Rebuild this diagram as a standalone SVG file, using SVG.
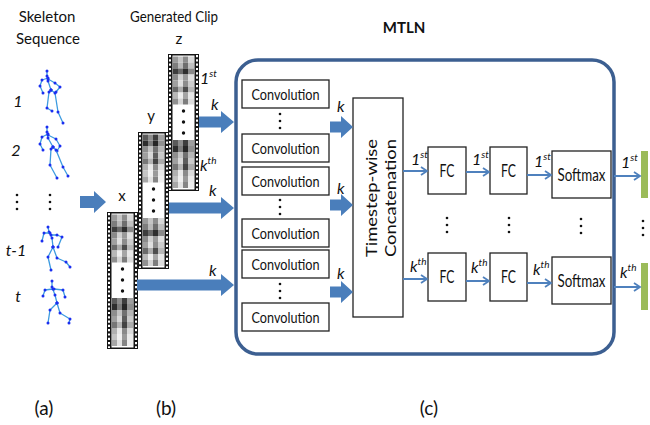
<svg xmlns="http://www.w3.org/2000/svg" width="650" height="425" viewBox="0 0 650 425">
<style>
  text { font-family: Lato, "Liberation Sans", "DejaVu Sans", sans-serif; fill: #111; }
  .hd { font-size: 15px; text-anchor: middle; }
  .lab { font-size: 17px; text-anchor: middle; }
  .conv { font-size: 15.5px; text-anchor: middle; }
  .it { font-style: italic; font-size: 16px; }
  .sup { font-size: 10px; }
  .cap { font-size: 19px; text-anchor: middle; }
  .box { fill: #fff; stroke: #222; stroke-width: 1.3; }
  .fat { fill: #4a7ebb; }
  .thin { stroke: #4f81bd; stroke-width: 2; fill: none; marker-end: url(#ah); }
  .bone { stroke: #3d9be0; stroke-width: 1.3; fill: none; stroke-linejoin: round;
          marker-start: url(#jt); marker-mid: url(#jt); marker-end: url(#jt); }
  .dot { fill: #111; }
  .perf { stroke: #fff; stroke-width: 2; stroke-dasharray: 2.2 2.1; }
  .out { fill: #9bbb59; }
</style>
<defs>
  <marker id="ah" markerWidth="10" markerHeight="10" refX="8" refY="5" orient="auto" markerUnits="userSpaceOnUse">
    <path d="M2,1 L8,5 L2,9" fill="none" stroke="#4f81bd" stroke-width="1.8"/>
  </marker>
  <marker id="jt" markerWidth="4" markerHeight="4" refX="2" refY="2" markerUnits="userSpaceOnUse">
    <circle cx="2" cy="2" r="1.5" fill="#1b2ff0"/>
  </marker>
  <filter id="soft" x="-5%" y="-5%" width="110%" height="110%">
    <feGaussianBlur stdDeviation="0.5"/>
  </filter>
  <!-- vertical ellipsis -->
  <g id="vd">
    <circle cx="0" cy="0" r="1.3"/>
    <circle cx="0" cy="7" r="1.3"/>
    <circle cx="0" cy="14" r="1.3"/>
  </g>
  <!-- film strip frame: 31 x 137 -->
  <g id="film">
    <rect width="31" height="137" fill="#151515"/>
    <line x1="2" y1="1" x2="2" y2="136" class="perf"/>
    <line x1="29" y1="1" x2="29" y2="136" class="perf"/>
    <rect x="4.5" y="1.5" width="22" height="134" fill="#fff"/>
    <circle cx="15.5" cy="57" r="1.7" class="dot"/>
    <circle cx="15.5" cy="68" r="1.7" class="dot"/>
    <circle cx="15.5" cy="79" r="1.7" class="dot"/>
  </g>
  <!-- grey-level clip frames: 21 x 48 -->
  <g id="imgA" filter="url(#soft)">
    <rect x="0" y="0" width="5" height="6" fill="#9a9a9a"/><rect x="5" y="0" width="5" height="6" fill="#c5c5c5"/><rect x="10" y="0" width="5" height="6" fill="#8c8c8c"/><rect x="15" y="0" width="6" height="6" fill="#d8d8d8"/>
    <rect x="0" y="6" width="5" height="6" fill="#7d7d7d"/><rect x="5" y="6" width="5" height="6" fill="#b9b9b9"/><rect x="10" y="6" width="5" height="6" fill="#6e6e6e"/><rect x="15" y="6" width="6" height="6" fill="#c0c0c0"/>
    <rect x="0" y="12" width="5" height="6" fill="#3c3c3c"/><rect x="5" y="12" width="5" height="6" fill="#6a6a6a"/><rect x="10" y="12" width="5" height="6" fill="#2e2e2e"/><rect x="15" y="12" width="6" height="6" fill="#8a8a8a"/>
    <rect x="0" y="18" width="5" height="6" fill="#8a8a8a"/><rect x="5" y="18" width="5" height="6" fill="#d0d0d0"/><rect x="10" y="18" width="5" height="6" fill="#999"/><rect x="15" y="18" width="6" height="6" fill="#e0e0e0"/>
    <rect x="0" y="24" width="5" height="6" fill="#a0a0a0"/><rect x="5" y="24" width="5" height="6" fill="#dfdfdf"/><rect x="10" y="24" width="5" height="6" fill="#8d8d8d"/><rect x="15" y="24" width="6" height="6" fill="#cdcdcd"/>
    <rect x="0" y="30" width="5" height="6" fill="#6a6a6a"/><rect x="5" y="30" width="5" height="6" fill="#acacac"/><rect x="10" y="30" width="5" height="6" fill="#4e4e4e"/><rect x="15" y="30" width="6" height="6" fill="#b8b8b8"/>
    <rect x="0" y="36" width="5" height="6" fill="#b8b8b8"/><rect x="5" y="36" width="5" height="6" fill="#eeeeee"/><rect x="10" y="36" width="5" height="6" fill="#a5a5a5"/><rect x="15" y="36" width="6" height="6" fill="#e8e8e8"/>
    <rect x="0" y="42" width="5" height="6" fill="#909090"/><rect x="5" y="42" width="5" height="6" fill="#d5d5d5"/><rect x="10" y="42" width="5" height="6" fill="#7b7b7b"/><rect x="15" y="42" width="6" height="6" fill="#dcdcdc"/>
  </g>
  <g id="imgB" filter="url(#soft)">
    <rect x="0" y="0" width="5" height="6" fill="#5a5a5a"/><rect x="5" y="0" width="5" height="6" fill="#8d8d8d"/><rect x="10" y="0" width="5" height="6" fill="#3d3d3d"/><rect x="15" y="0" width="6" height="6" fill="#9f9f9f"/>
    <rect x="0" y="6" width="5" height="6" fill="#2f2f2f"/><rect x="5" y="6" width="5" height="6" fill="#7b7b7b"/><rect x="10" y="6" width="5" height="6" fill="#262626"/><rect x="15" y="6" width="6" height="6" fill="#909090"/>
    <rect x="0" y="12" width="5" height="6" fill="#8e8e8e"/><rect x="5" y="12" width="5" height="6" fill="#c3c3c3"/><rect x="10" y="12" width="5" height="6" fill="#6f6f6f"/><rect x="15" y="12" width="6" height="6" fill="#b6b6b6"/>
    <rect x="0" y="18" width="5" height="6" fill="#9f9f9f"/><rect x="5" y="18" width="5" height="6" fill="#d7d7d7"/><rect x="10" y="18" width="5" height="6" fill="#5c5c5c"/><rect x="15" y="18" width="6" height="6" fill="#c9c9c9"/>
    <rect x="0" y="24" width="5" height="6" fill="#777"/><rect x="5" y="24" width="5" height="6" fill="#b3b3b3"/><rect x="10" y="24" width="5" height="6" fill="#434343"/><rect x="15" y="24" width="6" height="6" fill="#ababab"/>
    <rect x="0" y="30" width="5" height="6" fill="#b1b1b1"/><rect x="5" y="30" width="5" height="6" fill="#e9e9e9"/><rect x="10" y="30" width="5" height="6" fill="#8a8a8a"/><rect x="15" y="30" width="6" height="6" fill="#dbdbdb"/>
    <rect x="0" y="36" width="5" height="6" fill="#c4c4c4"/><rect x="5" y="36" width="5" height="6" fill="#f0f0f0"/><rect x="10" y="36" width="5" height="6" fill="#9a9a9a"/><rect x="15" y="36" width="6" height="6" fill="#eaeaea"/>
    <rect x="0" y="42" width="5" height="6" fill="#a7a7a7"/><rect x="5" y="42" width="5" height="6" fill="#e3e3e3"/><rect x="10" y="42" width="5" height="6" fill="#858585"/><rect x="15" y="42" width="6" height="6" fill="#efefef"/>
  </g>
</defs>

<rect width="650" height="425" fill="#fff"/>

<!-- (a) skeleton sequence -->
<g id="skeleton-sequence">
  <text x="47" y="22" class="hd">Skeleton</text>
  <text x="48" y="44" class="hd">Sequence</text>
  <text x="18" y="107" class="lab it">1</text>
  <text x="16" y="156" class="lab it">2</text>
  <text x="16" y="256" class="lab it">t-1</text>
  <text x="18" y="302" class="lab it">t</text>
  <use href="#vd" x="17" y="195" class="dot"/>
  <use href="#vd" x="50" y="195" class="dot"/>
  <g id="frame-1">
    <path class="bone" d="M47,71 L47,76 L48,81 L51,90"/>
    <path class="bone" d="M48,78 L42,80 L40,86 L43,93"/>
    <path class="bone" d="M48,79 L55,83 L60,87 L56,92"/>
    <path class="bone" d="M51,90 L49,92 L47,108 L52,111"/>
    <path class="bone" d="M51,90 L55,93 L58,112 L63,123"/>
  </g>
  <g id="frame-2">
    <path class="bone" d="M47,127 L47,132 L48,138 L53,147"/>
    <path class="bone" d="M48,134 L42,137 L40,144 L43,150"/>
    <path class="bone" d="M48,135 L56,139 L60,146 L57,151"/>
    <path class="bone" d="M53,147 L51,149 L50,165 L57,178"/>
    <path class="bone" d="M53,147 L56,150 L63,167 L68,176"/>
  </g>
  <g id="frame-t-1">
    <path class="bone" d="M48,227 L49,232 L52,238 L53,247"/>
    <path class="bone" d="M50,233 L44,233 L42,241"/>
    <path class="bone" d="M51,235 L57,235 L62,237 L58,247"/>
    <path class="bone" d="M53,247 L48,257 L51,270"/>
    <path class="bone" d="M53,247 L57,258 L66,262 L70,267"/>
  </g>
  <g id="frame-t">
    <path class="bone" d="M52,281 L52,287 L55,295 L57,303"/>
    <path class="bone" d="M53,289 L45,290 L43,296"/>
    <path class="bone" d="M54,289 L63,290 L65,297"/>
    <path class="bone" d="M57,303 L50,310 L48,323"/>
    <path class="bone" d="M57,303 L60,313 L70,319 L69,323"/>
  </g>
</g>

<!-- (b) generated clips -->
<text x="174" y="22" class="hd" textLength="88" lengthAdjust="spacingAndGlyphs">Generated Clip</text>
<g id="clip-z">
  <text x="179" y="44" class="hd">z</text>
  <g transform="translate(168,54)">
    <use href="#film"/>
    <use href="#imgA" x="5" y="2.5"/>
    <use href="#imgB" x="5" y="86"/>
  </g>
  <text x="200" y="84" class="it">1<tspan class="sup" dy="-7">st</tspan></text>
  <text x="200" y="171" class="it">k<tspan class="sup" dy="-7">th</tspan></text>
</g>
<g id="clip-y">
  <text x="151" y="121" class="hd">y</text>
  <g transform="translate(138,132)">
    <use href="#film"/>
    <use href="#imgB" x="5" y="2.5"/>
    <use href="#imgA" x="5" y="86"/>
  </g>
</g>
<g id="clip-x">
  <text x="122" y="201" class="hd">x</text>
  <g transform="translate(107,212)">
    <use href="#film"/>
    <use href="#imgA" x="5" y="2.5"/>
    <use href="#imgB" x="5" y="86"/>
  </g>
</g>

<!-- (c) MTLN -->
<g id="mtln">
  <text x="404" y="33" font-size="15" font-weight="bold" text-anchor="middle">MTLN</text>
  <rect x="236" y="60" width="378" height="294" rx="22" fill="none" stroke="#3c5f91" stroke-width="3.5"/>
</g>

<g id="conv-1"><rect class="box" x="242" y="80" width="87" height="28"/><text x="285.5" y="99.5" class="conv" textLength="68" lengthAdjust="spacingAndGlyphs">Convolution</text></g>
<g id="conv-2"><rect class="box" x="242" y="134" width="87" height="28"/><text x="285.5" y="153.5" class="conv" textLength="68" lengthAdjust="spacingAndGlyphs">Convolution</text></g>
<g id="conv-3"><rect class="box" x="242" y="167" width="87" height="28"/><text x="285.5" y="186.5" class="conv" textLength="68" lengthAdjust="spacingAndGlyphs">Convolution</text></g>
<g id="conv-4"><rect class="box" x="242" y="219" width="87" height="28"/><text x="285.5" y="238.5" class="conv" textLength="68" lengthAdjust="spacingAndGlyphs">Convolution</text></g>
<g id="conv-5"><rect class="box" x="242" y="250" width="87" height="28"/><text x="285.5" y="269.5" class="conv" textLength="68" lengthAdjust="spacingAndGlyphs">Convolution</text></g>
<g id="conv-6"><rect class="box" x="242" y="303" width="87" height="28"/><text x="285.5" y="322.5" class="conv" textLength="68" lengthAdjust="spacingAndGlyphs">Convolution</text></g>
<g id="conv-gaps" class="dot">
  <use href="#vd" x="280" y="114"/>
  <use href="#vd" x="280" y="200"/>
  <use href="#vd" x="280" y="284"/>
</g>

<g id="concat">
  <rect class="box" x="353" y="98" width="50" height="219"/>
  <text transform="translate(377,198) rotate(-90)" font-size="15" text-anchor="middle" textLength="118" lengthAdjust="spacingAndGlyphs">Timestep-wise</text>
  <text transform="translate(396,198) rotate(-90)" font-size="15" text-anchor="middle" textLength="118" lengthAdjust="spacingAndGlyphs">Concatenation</text>
</g>

<g id="fc1-1"><rect class="box" x="428" y="147" width="38" height="47"/><text x="447" y="177" class="lab" textLength="15" lengthAdjust="spacingAndGlyphs">FC</text></g>
<g id="fc2-1"><rect class="box" x="490" y="147" width="37" height="47"/><text x="508.5" y="177" class="lab" textLength="15" lengthAdjust="spacingAndGlyphs">FC</text></g>
<g id="softmax-1"><rect class="box" x="552" y="151" width="59" height="47"/><text x="581.5" y="181" class="lab" textLength="48" lengthAdjust="spacingAndGlyphs">Softmax</text></g>
<g id="fc1-k"><rect class="box" x="428" y="253" width="38" height="48"/><text x="447" y="283" class="lab" textLength="15" lengthAdjust="spacingAndGlyphs">FC</text></g>
<g id="fc2-k"><rect class="box" x="490" y="253" width="37" height="48"/><text x="508.5" y="283" class="lab" textLength="15" lengthAdjust="spacingAndGlyphs">FC</text></g>
<g id="softmax-k"><rect class="box" x="552" y="257" width="59" height="47"/><text x="581.5" y="287" class="lab" textLength="48" lengthAdjust="spacingAndGlyphs">Softmax</text></g>
<g id="head-gaps" class="dot">
  <use href="#vd" x="447" y="218"/>
  <use href="#vd" x="509" y="218"/>
  <use href="#vd" x="581" y="219"/>
  <use href="#vd" x="643" y="221"/>
</g>

<g id="output-1"><rect class="out" x="641" y="151" width="7" height="47"/></g>
<g id="output-k"><rect class="out" x="641" y="263" width="7" height="47"/></g>

<!-- connectors -->
<g id="connectors">
  <polygon class="fat" points="80,196 94,196 94,191 106,202 94,213 94,208 80,208"/>
  <polygon class="fat" points="199,116.5 221,116.5 221,111 234,122 221,133 221,127.5 199,127.5"/>
  <polygon class="fat" points="169,202.5 221,202.5 221,197 234,208 221,219 221,213.5 169,213.5"/>
  <polygon class="fat" points="137,279.5 221,279.5 221,274 234,285 221,296 221,290.5 137,290.5"/>
  <polygon class="fat" points="330,121.5 341,121.5 341,116 353,127 341,138 341,132.5 330,132.5"/>
  <polygon class="fat" points="330,199.5 341,199.5 341,194 353,205 341,216 341,210.5 330,210.5"/>
  <polygon class="fat" points="330,286.5 341,286.5 341,281 353,292 341,303 341,297.5 330,297.5"/>

  <line class="thin" x1="403" y1="171" x2="427" y2="171"/>
  <line class="thin" x1="466" y1="172" x2="489" y2="172"/>
  <line class="thin" x1="527" y1="175" x2="551" y2="175"/>
  <line class="thin" x1="614" y1="176" x2="640" y2="176"/>
  <line class="thin" x1="403" y1="279" x2="427" y2="279"/>
  <line class="thin" x1="466" y1="281" x2="489" y2="281"/>
  <line class="thin" x1="527" y1="283" x2="551" y2="283"/>
  <line class="thin" x1="614" y1="287" x2="640" y2="287"/>

  <text x="211" y="110" class="it">k</text>
  <text x="209" y="196" class="it">k</text>
  <text x="209" y="276" class="it">k</text>
  <text x="337" y="112" class="it">k</text>
  <text x="337" y="194" class="it">k</text>
  <text x="337" y="279" class="it">k</text>

  <text x="411" y="165" class="it">1<tspan class="sup" dy="-7">st</tspan></text>
  <text x="472" y="165" class="it">1<tspan class="sup" dy="-7">st</tspan></text>
  <text x="534" y="167" class="it">1<tspan class="sup" dy="-7">st</tspan></text>
  <text x="621" y="168" class="it">1<tspan class="sup" dy="-7">st</tspan></text>
  <text x="410" y="272" class="it">k<tspan class="sup" dy="-7">th</tspan></text>
  <text x="471" y="273" class="it">k<tspan class="sup" dy="-7">th</tspan></text>
  <text x="533" y="275" class="it">k<tspan class="sup" dy="-7">th</tspan></text>
  <text x="620" y="278" class="it">k<tspan class="sup" dy="-7">th</tspan></text>
</g>

<text x="44" y="415" class="cap">(a)</text>
<text x="166" y="415" class="cap">(b)</text>
<text x="429" y="415" class="cap">(c)</text>
</svg>
